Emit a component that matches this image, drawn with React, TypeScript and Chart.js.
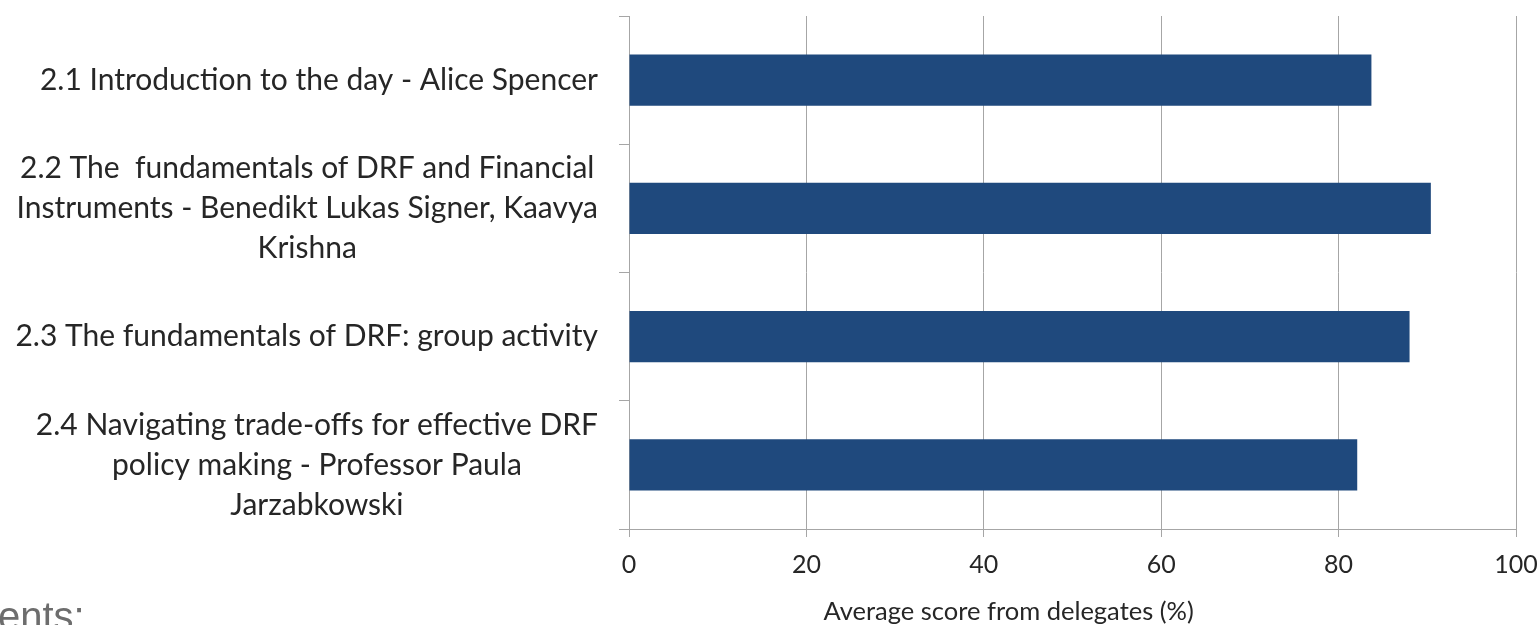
import React, { useEffect, useRef } from "react";
import { Chart, registerables } from "chart.js";

Chart.register(...registerables);

const categoryLabels: string[][] = [
  ["2.1 Introduction to the day - Alice Spencer"],
  [
    "2.2 The  fundamentals of DRF and Financial",
    "Instruments - Benedikt Lukas Signer, Kaavya",
    "Krishna",
  ],
  ["2.3 The fundamentals of DRF: group activity"],
  [
    "2.4 Navigating trade-offs for effective DRF",
    "policy making - Professor Paula",
    "Jarzabkowski",
  ],
];

const averageScores: number[] = [83.7, 90.4, 88.0, 82.1];

const axisMin = 0;
const axisMax = 100;
const axisStep = 20;
const axisTitle = "Average score from delegates (%)";
const cutOffText = "ents:";

const FONT = "Lato, 'Noto Sans', sans-serif";
const TEXT_COLOR = "#262626";
const GRID_COLOR = "#a6a6a6";
const BAR_COLOR = "#1f497d";

const customLabelsPlugin = {
  id: "customLabels",
  afterDraw(chart: any) {
    const ctx = chart.ctx as CanvasRenderingContext2D;
    const yScale = chart.scales.y;
    const xScale = chart.scales.x;
    ctx.save();
    // category labels: each block right-aligned, lines centred within block
    ctx.font = `30px ${FONT}`;
    ctx.fillStyle = TEXT_COLOR;
    ctx.textAlign = "center";
    ctx.textBaseline = "middle";
    const rightEdge = yScale.right - 31;
    const lineHeight = 40;
    categoryLabels.forEach((lines, i) => {
      const y = yScale.getPixelForTick(i);
      const widest = Math.max(...lines.map((l) => ctx.measureText(l).width));
      const cx = rightEdge - widest / 2;
      lines.forEach((line, j) => {
        const ly = y + (j - (lines.length - 1) / 2) * lineHeight;
        ctx.fillText(line, cx, ly);
      });
    });
    // axis title
    ctx.font = `25.5px ${FONT}`;
    ctx.fillText(
      axisTitle,
      xScale.left + 0.428 * (xScale.right - xScale.left),
      xScale.bottom - 13
    );
    ctx.restore();
  },
};

export default function App() {
  const canvasRef = useRef<HTMLCanvasElement | null>(null);

  useEffect(() => {
    if (!canvasRef.current) return;
    const chart = new Chart(canvasRef.current, {
      type: "bar",
      data: {
        labels: categoryLabels.map((l) => l.join(" ")),
        datasets: [
          {
            data: averageScores,
            backgroundColor: BAR_COLOR,
            borderWidth: 0,
            categoryPercentage: 1,
            barPercentage: 0.4,
          },
        ],
      },
      options: {
        indexAxis: "y",
        animation: false,
        responsive: false,
        layout: { padding: { top: 16, right: 23, left: 0, bottom: 0 } },
        plugins: {
          legend: { display: false },
          tooltip: { enabled: false },
          title: { display: false },
        },
        scales: {
          x: {
            min: axisMin,
            max: axisMax,
            ticks: {
              stepSize: axisStep,
              color: TEXT_COLOR,
              font: { family: FONT, size: 25 },
              padding: 13,
              maxRotation: 0,
            },
            grid: {
              color: GRID_COLOR,
              lineWidth: 1,
              tickLength: 8,
              drawTicks: true,
            },
            border: { color: GRID_COLOR, width: 1 },
            afterFit: (s: any) => {
              s.height = 96;
              s.paddingLeft = 0;
              s.paddingRight = 0;
            },
          },
          y: {
            ticks: { display: false },
            grid: {
              drawOnChartArea: false,
              offset: true,
              tickLength: 10,
              color: GRID_COLOR,
            },
            border: { color: GRID_COLOR, width: 1 },
            afterFit: (s: any) => {
              s.width = 629;
              s.paddingTop = 0;
              s.paddingBottom = 0;
            },
          },
        },
      },
      plugins: [customLabelsPlugin],
    });
    return () => chart.destroy();
  }, []);

  return (
    <div
      style={{
        position: "fixed",
        left: 0,
        top: 0,
        width: 1539,
        height: 625,
        overflow: "hidden",
        background: "#ffffff",
      }}
    >
      <canvas ref={canvasRef} width={1539} height={625} />
      <div
        style={{
          position: "absolute",
          left: -2,
          top: 596,
          fontFamily: "'Liberation Sans', Arial, sans-serif",
          fontSize: 40,
          lineHeight: "40px",
          color: "#6d6d6d",
          whiteSpace: "nowrap",
        }}
      >
        {cutOffText}
      </div>
    </div>
  );
}
